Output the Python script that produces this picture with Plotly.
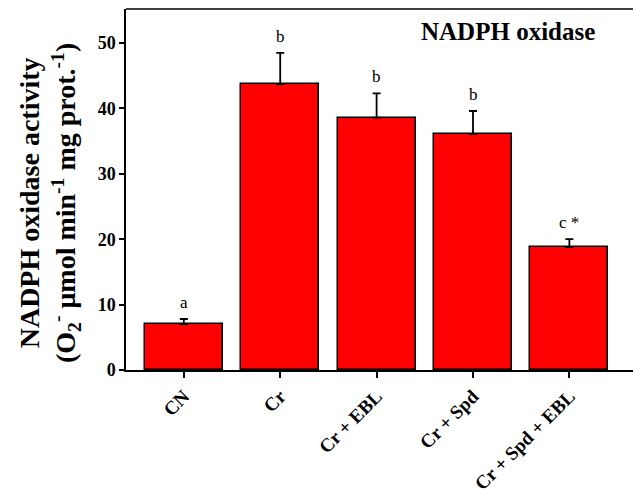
import plotly.graph_objects as go

categories = ["CN", "Cr", "Cr + EBL", "Cr + Spd", "Cr + Spd + EBL"]
values = [7.0, 43.7, 38.6, 36.1, 18.8]
errors = [0.8, 4.8, 3.7, 3.5, 1.2]
letters = ["a", "b", "b", "b", "c *"]

FONT = "Times New Roman, Liberation Serif, serif"
x_idx = list(range(len(categories)))

fig = go.Figure()
fig.add_trace(go.Bar(
    x=x_idx, y=values, width=0.81,
    marker=dict(color="#ff0000", line=dict(color="black", width=1.5)),
    error_y=dict(type="data", array=errors, arrayminus=[0]*len(errors), symmetric=False,
                 color="black", thickness=1.8, width=4),
))

for i, (v, e, t) in enumerate(zip(values, errors, letters)):
    fig.add_annotation(x=i, y=v + e, text=t, showarrow=False, yanchor="bottom", yshift=5,
                       font=dict(family=FONT, size=17, color="black"))

fig.add_annotation(x=0.753, xref="paper", y=51.7, yref="y", text="<b>NADPH oxidase</b>",
                   showarrow=False, font=dict(family=FONT, size=25, color="black"),
                   xanchor="center", yanchor="middle")

# y-axis title
fig.add_annotation(
    x=0, xref="paper", xanchor="center", xshift=-77,
    y=0.4626, yref="paper", yanchor="middle",
    text="<b>NADPH oxidase activity<br>(O<sub>2</sub><sup>-</sup> μmol min<sup>-1</sup> mg prot.<sup>-1</sup>)</b>",
    textangle=-90, showarrow=False,
    font=dict(family=FONT, size=28, color="black"),
)

# top border line
fig.add_shape(type="line", xref="paper", yref="paper", x0=0, x1=1, y0=1, y1=1,
              line=dict(color="black", width=1.5))

fig.update_layout(
    width=633, height=499,
    margin=dict(l=126, r=0, t=9, b=129),
    paper_bgcolor="white", plot_bgcolor="white",
    showlegend=False,
    font=dict(family=FONT, color="black"),
    bargap=0,
)
fig.update_xaxes(
    range=[-0.6, 4.66], tickmode="array", tickvals=x_idx,
    ticktext=["<b>" + c + "</b>" for c in categories],
    tickangle=-45, ticks="outside", ticklen=6, tickwidth=1.5, tickcolor="black",
    showline=True, linecolor="black", linewidth=1.5, showgrid=False, zeroline=False,
    tickfont=dict(family=FONT, size=19, color="black"),
)
fig.update_yaxes(
    range=[0, 55.2], tickvals=[0, 10, 20, 30, 40, 50],
    ticktext=["<b>0</b>", "<b>10</b>", "<b>20</b>", "<b>30</b>", "<b>40</b>", "<b>50</b>"],
    ticks="outside", ticklen=5, tickwidth=1.5, tickcolor="black",
    showline=True, linecolor="black", linewidth=1.5, showgrid=False, zeroline=False,
    tickfont=dict(family=FONT, size=18, color="black"),
)

fig.write_html("out.html")
